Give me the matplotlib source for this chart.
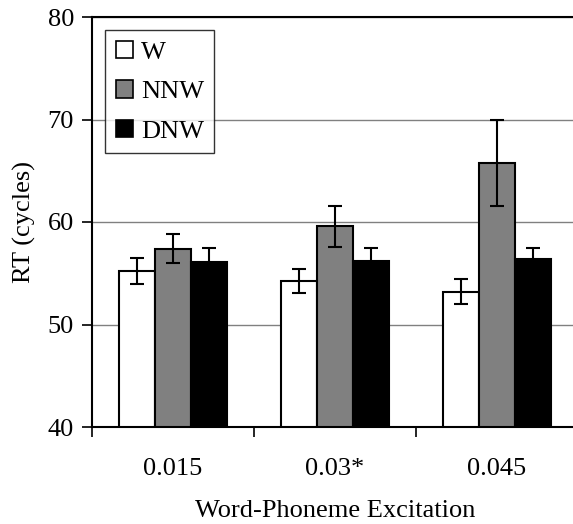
import matplotlib
matplotlib.use("Agg")
import matplotlib.pyplot as plt
import numpy as np

categories = ["0.015", "0.03*", "0.045"]
series = ["W", "NNW", "DNW"]
W = [55.2, 54.25, 53.2]
NNW = [57.4, 59.6, 65.8]
DNW = [56.1, 56.2, 56.4]
W_err = [1.25, 1.2, 1.2]
NNW_err = [1.4, 2.0, 4.2]
DNW_err = [1.4, 1.3, 1.1]
yticks = [40, 50, 60, 70, 80]

plt.rcParams['font.family'] = ['Liberation Serif', 'DejaVu Serif']
FS = 19

fig = plt.figure(figsize=(5.73, 5.24), dpi=100)
W_px, H_px = 573, 524
left, right, top, bottom = 92, 578, 17, 427
ax = fig.add_axes([left / W_px, 1 - bottom / H_px, (right - left) / W_px, (bottom - top) / H_px])

x = np.arange(len(categories))
bw = 0.222
colors = ["white", "#808080", "black"]
vals = [W, NNW, DNW]
errs = [W_err, NNW_err, DNW_err]
for i, (s, v, e, c) in enumerate(zip(series, vals, errs, colors)):
    ax.bar(x + (i - 1) * bw, np.array(v) - 40, bottom=40, width=bw, color=c,
           edgecolor="black", linewidth=1.5, label=s, zorder=3)
    ax.errorbar(x + (i - 1) * bw, v, yerr=e, fmt="none", ecolor="black",
                elinewidth=1.5, capsize=5, capthick=1.5, zorder=4)

ax.set_xlim(-0.5, 2.5)
ax.set_ylim(40, 80)
ax.set_yticks(yticks)
ax.yaxis.grid(True, color="#808080", linewidth=1)
ax.set_axisbelow(True)

ax.set_xticks([-0.5, 0.5, 1.5, 2.5])
ax.set_xticklabels([])
ax.set_xticks(x, minor=True)
ax.set_xticklabels(categories, minor=True)
ax.tick_params(axis="x", which="minor", length=0, pad=22, labelsize=FS)
ax.tick_params(axis="x", which="major", length=7, width=1.2, direction="out")
ax.tick_params(axis="y", length=7, width=1.2, direction="out", labelsize=FS, pad=6)

ax.spines["right"].set_visible(False)
for sp in ["left", "bottom", "top"]:
    ax.spines[sp].set_linewidth(1.5)

ax.set_xlabel("Word-Phoneme Excitation", fontsize=FS, labelpad=15)
ax.set_ylabel("RT (cycles)", fontsize=FS, labelpad=8)

leg = ax.legend(loc="upper left", bbox_to_anchor=(0.027, 0.968), fontsize=FS,
                frameon=True, fancybox=False, edgecolor="black",
                handlelength=0.65, handleheight=0.65, handletextpad=0.3,
                labelspacing=0.62, borderpad=0.4, borderaxespad=0)
leg.get_frame().set_linewidth(1.0)
leg.set_zorder(5)
for h in leg.legend_handles:
    h.set_linewidth(1.2)

fig.savefig("out.png", dpi=100)
